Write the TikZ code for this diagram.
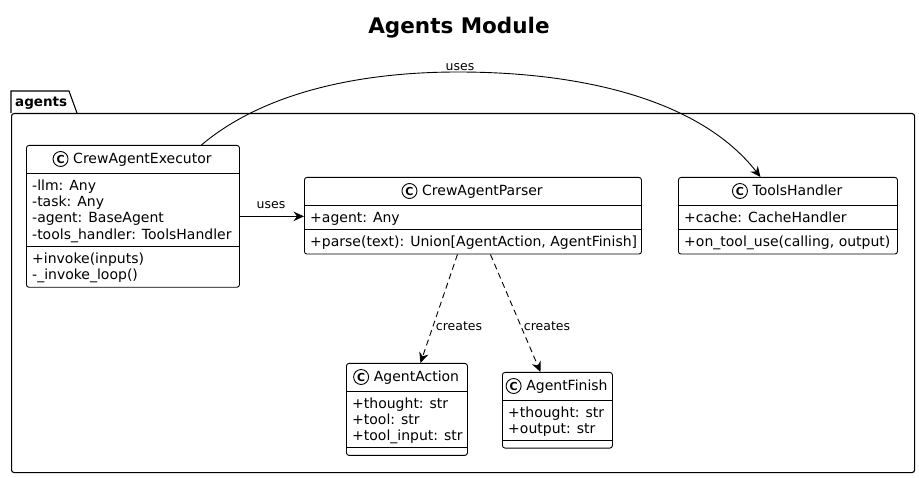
\documentclass[tikz,border=0pt]{standalone}
\usepackage{fontspec}
\setmainfont{DejaVu Sans}
\usetikzlibrary{arrows.meta,calc}
\newcommand{\umlhead}[2]{%
  \node[cname] (#1-name) at ($(#1.north)+(9.5,19)$) {#2};
  \draw[line width=0.9pt, fill=white] ($(#1-name.base west)+(-12.5,-5)$) circle[radius=7.5];
  \node[inner sep=0, font=\fontsize{11}{11}\selectfont\bfseries] (#1-icon) at ($(#1-name.base west)+(-12.5,-5)$) {C};
  \draw[sep] ($(#1.north west)+(0,28)$) -- ($(#1.north east)+(0,28)$);
}
\newcommand{\umlsep}[2]{%
  \draw[sep] ($(#1.north west)+(0,#2)$) -- ($(#1.north east)+(0,#2)$);
}
\begin{document}
\begin{tikzpicture}[x=1pt,y=-1pt,
  classbox/.style={draw, line width=0.9pt, rounded corners=2.5pt, fill=white, inner sep=0},
  member/.style={anchor=base west, inner sep=0, font=\fontsize{14}{16}\selectfont},
  cname/.style={anchor=base, inner sep=0, font=\fontsize{14}{16}\selectfont},
  lbl/.style={inner sep=0, font=\fontsize{12.5}{14}\selectfont},
  sep/.style={line width=0.9pt},
  conn/.style={line width=0.9pt, -{Stealth[length=10.5pt,width=9.5pt,inset=3.5pt]}},
  dep/.style={conn, dash pattern=on 6pt off 4pt},
]
\path[use as bounding box, fill=white] (0,0) rectangle (919,478);

% title
\node[inner sep=0, font=\fontsize{21.5}{24}\selectfont\bfseries] (title) at (459,28) {Agents Module};

% package
\draw[line width=1.1pt] (11,113) -- (11,91) -- (69,91) -- (77,113);
\node[draw, line width=1.1pt, rounded corners=2.5pt, inner sep=0, minimum width=903, minimum height=359, anchor=north west] (pkg) at (11,113) {};
\node[anchor=base west, inner sep=0, font=\fontsize{13.5}{15}\selectfont\bfseries] (pkglabel) at (15,107) {agents};

% CrewAgentExecutor
\node[classbox, minimum width=213, minimum height=141.8, anchor=north west] (exec) at (26,145) {};
\umlhead{exec}{CrewAgentExecutor}
\umlsep{exec}{101.2}
\node[member] (exec-a1) at (32,190.15) {-llm: Any};
\node[member] (exec-a2) at (32,206.45) {-task: Any};
\node[member] (exec-a3) at (32,222.75) {-agent: BaseAgent};
\node[member] (exec-a4) at (32,239.05) {-tools\_handler: ToolsHandler};
\node[member] (exec-m1) at (32,263.35) {+invoke(inputs)};
\node[member] (exec-m2) at (32,279.65) {-\_invoke\_loop()};

% CrewAgentParser
\node[classbox, minimum width=337, minimum height=76.6, anchor=north west] (parser) at (304,177) {};
\umlhead{parser}{CrewAgentParser}
\umlsep{parser}{52.3}
\node[member] (parser-a1) at (310,222.15) {+agent: Any};
\node[member] (parser-m1) at (310,246.45) {+parse(text): Union[AgentAction, AgentFinish]};

% ToolsHandler
\node[classbox, minimum width=219, minimum height=76.6, anchor=north west] (tools) at (678,177) {};
\umlhead{tools}{ToolsHandler}
\umlsep{tools}{52.3}
\node[member] (tools-a1) at (684,222.15) {+cache: CacheHandler};
\node[member] (tools-m1) at (684,246.45) {+on\_tool\_use(calling, output)};

% AgentAction
\node[classbox, minimum width=121, minimum height=91.9, anchor=north west] (action) at (346,363) {};
\umlhead{action}{AgentAction}
\umlsep{action}{84.9}
\node[member] (action-a1) at (352,408.15) {+thought: str};
\node[member] (action-a2) at (352,424.45) {+tool: str};
\node[member] (action-a3) at (352,440.75) {+tool\_input: str};

% AgentFinish
\node[classbox, minimum width=110, minimum height=75.6, anchor=north west] (finish) at (502,372) {};
\umlhead{finish}{AgentFinish}
\umlsep{finish}{68.6}
\node[member] (finish-a1) at (508,417.15) {+thought: str};
\node[member] (finish-a2) at (508,433.45) {+output: str};

% connectors
\draw[conn] (exec.east) -- (exec.east -| parser.west);
\node[lbl] (l-uses1) at (271,205) {uses};

\coordinate (peak) at (458,72);
\draw[conn] ([xshift=68.5pt]exec.north) .. controls +(59,-50) and +(-105,0) .. (peak)
  .. controls +(125,0) and +(-60,-77) .. ([xshift=-27.5pt]tools.north);
\node[lbl] (l-uses2) at (460,67) {uses};

\draw[dep] ([xshift=-15.5pt]parser.south) -- ([xshift=13.5pt]action.north);
\node[lbl] (l-creates1) at (459,326) {creates};
\draw[dep] ([xshift=17.5pt]parser.south) -- ([xshift=-17pt]finish.north);
\node[lbl] (l-creates2) at (547,326) {creates};
\end{tikzpicture}
\end{document}
